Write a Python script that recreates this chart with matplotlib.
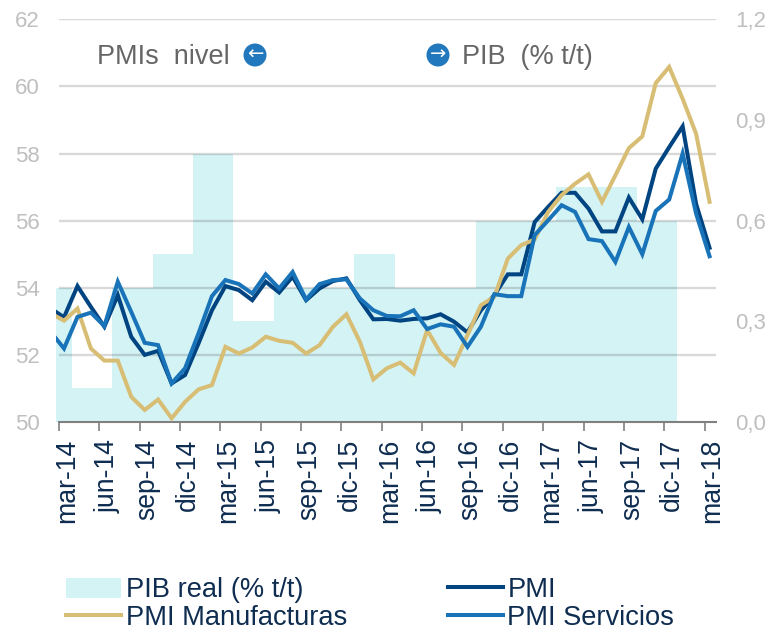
import matplotlib
matplotlib.use('Agg')
import matplotlib.pyplot as plt
from matplotlib.patches import Circle
from matplotlib.transforms import IdentityTransform, ScaledTranslation
import numpy as np

plt.rcParams['font.family'] = ['Liberation Sans', 'DejaVu Sans']

# monthly data, first point sits a little before mar-14
months = [-0.6] + list(range(49))
pmi = [53.28, 53.12, 54.05, 53.43, 52.84, 53.78, 52.54, 52.0, 52.12, 51.15, 51.4, 52.34, 53.33,
       54.05, 53.93, 53.63, 54.18, 53.86, 54.33, 53.63, 53.98, 54.2, 54.28, 53.63, 53.06,
       53.07, 53.02, 53.07, 53.09, 53.21, 52.99, 52.67, 53.33, 53.78, 54.4, 54.4, 55.96,
       56.41, 56.83, 56.83, 56.36, 55.68, 55.68, 56.69, 56.04, 57.55, 58.19, 58.81, 56.5, 55.19]
servicios = [52.49, 52.19, 53.13, 53.26, 52.86, 54.18, 53.28, 52.36, 52.29, 51.15, 51.6, 52.64, 53.75,
             54.23, 54.11, 53.83, 54.4, 53.98, 54.47, 53.65, 54.11, 54.23, 54.25, 53.68, 53.33,
             53.16, 53.15, 53.33, 52.77, 52.91, 52.84, 52.24, 52.84, 53.81, 53.75, 53.75, 55.57,
             56.01, 56.46, 56.26, 55.45, 55.39, 54.77, 55.81, 55.0, 56.29, 56.63, 58.0, 56.21, 54.94]
manuf = [53.15, 53.02, 53.38, 52.19, 51.83, 51.83, 50.75, 50.36, 50.67, 50.11, 50.6, 50.97, 51.1,
         52.24, 52.04, 52.22, 52.54, 52.42, 52.36, 52.04, 52.29, 52.84, 53.21, 52.39, 51.27,
         51.6, 51.77, 51.45, 52.74, 52.06, 51.7, 52.59, 53.48, 53.73, 54.87, 55.27, 55.44,
         56.26, 56.76, 57.1, 57.38, 56.56, 57.35, 58.16, 58.51, 60.1, 60.58, 59.63, 58.59, 56.56]

# quarterly GDP
pib = [0.4, 0.1, 0.4, 0.5, 0.8, 0.3, 0.4, 0.4, 0.5, 0.4, 0.4, 0.6, 0.6, 0.7, 0.7, 0.6]
pib_edges = [-0.6] + [0.6 + 3 * k for k in range(16)]

tick_labels = ['mar-14', 'jun-14', 'sep-14', 'dic-14', 'mar-15', 'jun-15', 'sep-15', 'dic-15', 'mar-16',
               'jun-16', 'sep-16', 'dic-16', 'mar-17', 'jun-17', 'sep-17', 'dic-17', 'mar-18']
left_ticks = [50, 52, 54, 56, 58, 60, 62]
right_ticks = [0.0, 0.3, 0.6, 0.9, 1.2]

W, H = 768, 633
fig = plt.figure(figsize=(W / 100, H / 100), dpi=100)
ax2 = fig.add_axes([56 / W, 1 - 422 / H, (716 - 56) / W, (422 - 19.3) / H])
ax = ax2.twinx()
ax.set_zorder(ax2.get_zorder() + 1)
ax.patch.set_visible(False)

area = ax2.stairs(pib, pib_edges, baseline=0, fill=True, color='#d4f3f5', linewidth=0, label='PIB real (% t/t)')

ax.hlines(left_ticks[1:], -0.37, 48.48, color='k', alpha=0.15, linewidth=1.7)
l1, = ax.plot(months, pmi, color='#004481', lw=2.9, solid_joinstyle='miter', label='PMI')
l2, = ax.plot(months, manuf, color='#d8be75', lw=2.9, solid_joinstyle='miter', label='PMI Manufacturas')
l3, = ax.plot(months, servicios, color='#1973b8', lw=2.9, solid_joinstyle='miter', label='PMI Servicios')

ax2.set_xlim(-0.595, 48.48)
ax.set_xlim(-0.595, 48.48)
ax.set_ylim(50, 62)
ax2.set_ylim(0, 1.2)

# twinx puts the left scale on the right, swap them back
ax.yaxis.tick_left()
ax2.yaxis.tick_right()
ax.set_yticks(left_ticks)
ax.set_yticklabels([str(t) for t in left_ticks])
ax2.set_yticks(right_ticks)
ax2.set_yticklabels([('%.1f' % t).replace('.', ',') for t in right_ticks])
ax.tick_params(axis='y', length=0, pad=11.5, labelsize=16, labelcolor='#bfbfbf')
ax2.tick_params(axis='y', length=0, pad=14, labelsize=16, labelcolor='#bfbfbf')

for a in (ax, ax2):
    for s in a.spines.values():
        s.set_visible(False)

ax2.set_xticks([-0.37 + 3 * k for k in range(17)])
ax2.set_xticklabels(tick_labels, rotation=90, fontsize=19.2, color='#0f2d50')
ax2.tick_params(axis='x', length=6.5, width=1.2, color='#808080', pad=5.5)
ax.tick_params(axis='x', length=0, labelbottom=False)
ax2.spines['bottom'].set_visible(True)
ax2.spines['bottom'].set_color('#808080')
ax2.spines['bottom'].set_linewidth(1.5)
ax2.spines['bottom'].set_bounds(-0.37, 48.48)
shift = ScaledTranslation(8 / 100, 0, fig.dpi_scale_trans)
for lab in ax2.get_xticklabels():
    lab.set_transform(lab.get_transform() + shift)

# headings with the arrows
fig.text(97 / W, 1 - 56.5 / H, 'PMIs  nivel', fontsize=19.5, color='#666666', va='center', ha='left')
fig.text(462 / W, 1 - 56.5 / H, 'PIB  (% t/t)', fontsize=19.5, color='#666666', va='center', ha='left')
for cx, arrow in [(255, '←'), (438, '→')]:
    fig.add_artist(Circle((cx, H - 55), 11.5, transform=IdentityTransform(), color='#2178bd', lw=0))
    fig.text(cx / W, 1 - 54.5 / H, arrow, fontsize=14, color='white', va='center', ha='center',
             family='DejaVu Sans')

fig.legend([area, l2, l1, l3], ['PIB real (% t/t)', 'PMI Manufacturas', 'PMI', 'PMI Servicios'],
           ncols=2, loc='lower left', bbox_to_anchor=(63.5 / W, 1 - 634 / H), frameon=False,
           fontsize=19.6, labelcolor='#0f2d50', handlelength=2.02, handleheight=0.8, handletextpad=0.18,
           columnspacing=3.68, labelspacing=0.07, borderpad=0.1, borderaxespad=0)

fig.savefig('out.png', dpi=100)
plt.close()
